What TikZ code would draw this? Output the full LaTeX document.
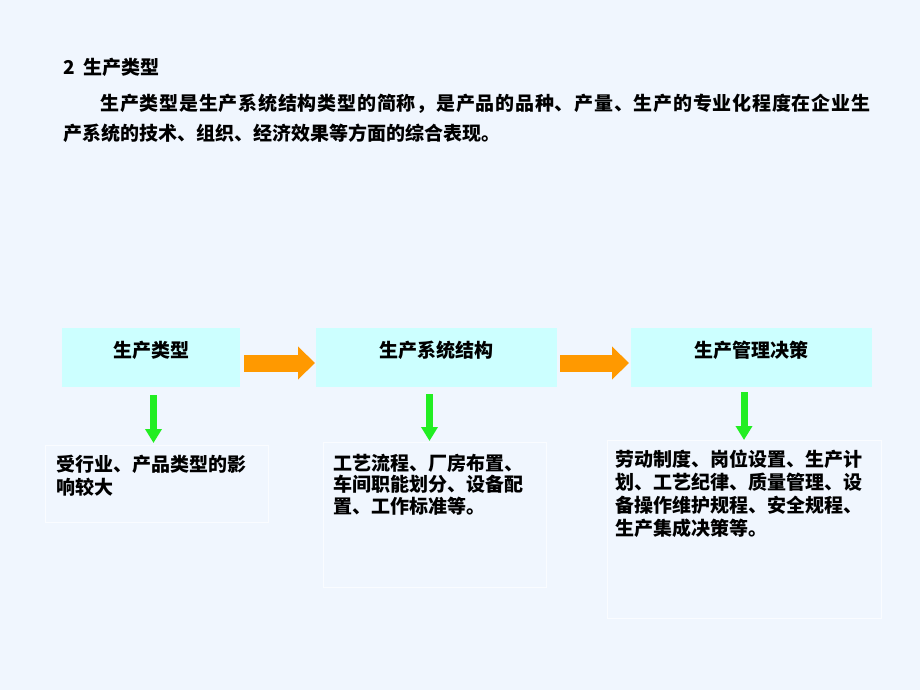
\documentclass[tikz,border=0pt]{standalone}
\usepackage{fontspec}
\setmainfont{Noto Sans CJK SC}
\usetikzlibrary{arrows.meta}

\definecolor{bgblue}{RGB}{240,246,254}
\definecolor{boxcyan}{RGB}{204,255,255}
\definecolor{arroworange}{RGB}{255,153,0}
\definecolor{arrowgreen}{RGB}{34,238,34}

\tikzset{
  typebox/.style={fill=boxcyan,inner sep=0,outer sep=0},
  notebox/.style={draw=white!70!bgblue,line width=0.4pt,inner sep=0,outer sep=0},
  boxtext/.style={anchor=north west,align=left,inner sep=0},
  flow/.style={draw=arroworange,line width=8.5pt,-{Triangle[width=16pt,length=8.5pt]}},
  down/.style={draw=arrowgreen,line width=3.5pt,-{Triangle[width=8pt,length=7pt]}}
}

\begin{document}
\begin{tikzpicture}[x=0.5pt,y=-0.5pt,font=\fontsize{9.5}{11.5}\selectfont\bfseries]
\fill[bgblue] (0,0) rectangle (920,690);
\useasboundingbox (0,0) rectangle (920,690);

% heading and paragraph
\node[anchor=west,inner sep=0] (title) at (63,67) {2\ \ 生产类型};
\node[anchor=west,inner sep=0] (para1) at (100,104) {\addfontfeature{LetterSpace=4}生产类型是生产系统结构类型的简称，是产品的品种、产量、生产的专业化程度在企业生};
\node[anchor=west,inner sep=0] (para2) at (63,133) {产系统的技术、组织、经济效果等方面的综合表现。};

% top row
\node[typebox,minimum width=89pt,minimum height=29.5pt] (t1) at (151,357.5) {};
\node[typebox,minimum width=120.5pt,minimum height=29.5pt] (t2) at (436.5,357.5) {};
\node[typebox,minimum width=120.5pt,minimum height=29.5pt] (t3) at (751.5,357.5) {};
\node[inner sep=0] (t1l) at ([yshift=3.75pt]t1.center) {生产类型};
\node[inner sep=0] (t2l) at ([yshift=3.75pt]t2.center) {生产系统结构};
\node[inner sep=0] (t3l) at ([yshift=3.75pt]t3.center) {生产管理决策};

% bottom row
\node[notebox,minimum width=111.5pt,minimum height=38.5pt] (d1) at (156.5,483.5) {};
\node[notebox,minimum width=111.5pt,minimum height=72.5pt] (d2) at (434.5,514.5) {};
\node[notebox,minimum width=137pt,minimum height=89pt] (d3) at (744,529) {};
\node[boxtext] (d1l) at ([xshift=5.5pt,yshift=-4.75pt]d1.north west) {受行业、产品类型的影\\响较大};
\node[boxtext,font=\fontsize{9.5}{10.75}\selectfont\bfseries] (d2l) at ([xshift=5pt,yshift=-5.75pt]d2.north west) {工艺流程、厂房布置、\\车间职能划分、设备配\\置、工作标准等。};
\node[boxtext] (d3l) at ([xshift=4pt,yshift=-4.75pt]d3.north west) {劳动制度、岗位设置、生产计\\划、工艺纪律、质量管理、设\\备操作维护规程、安全规程、\\生产集成决策等。};

% arrows
\draw[flow,shorten <=2pt,shorten >=0.5pt] ([yshift=-2.75pt]t1.east) -- ([yshift=-2.75pt]t2.west);
\draw[flow,shorten <=1.5pt,shorten >=1pt] ([yshift=-2.75pt]t2.east) -- ([yshift=-2.75pt]t3.west);
\draw[down,shorten <=4pt,shorten >=1pt] ([xshift=1.25pt]t1.south) -- ([xshift=1.25pt]t1.south |- d1.north);
\draw[down,shorten <=3.5pt,shorten >=0.5pt] ([xshift=-3.5pt]t2.south) -- ([xshift=-3.5pt]t2.south |- d2.north);
\draw[down,shorten <=2.5pt] ([xshift=-3.75pt]t3.south) -- ([xshift=-3.75pt]t3.south |- d3.north);
\end{tikzpicture}
\end{document}
